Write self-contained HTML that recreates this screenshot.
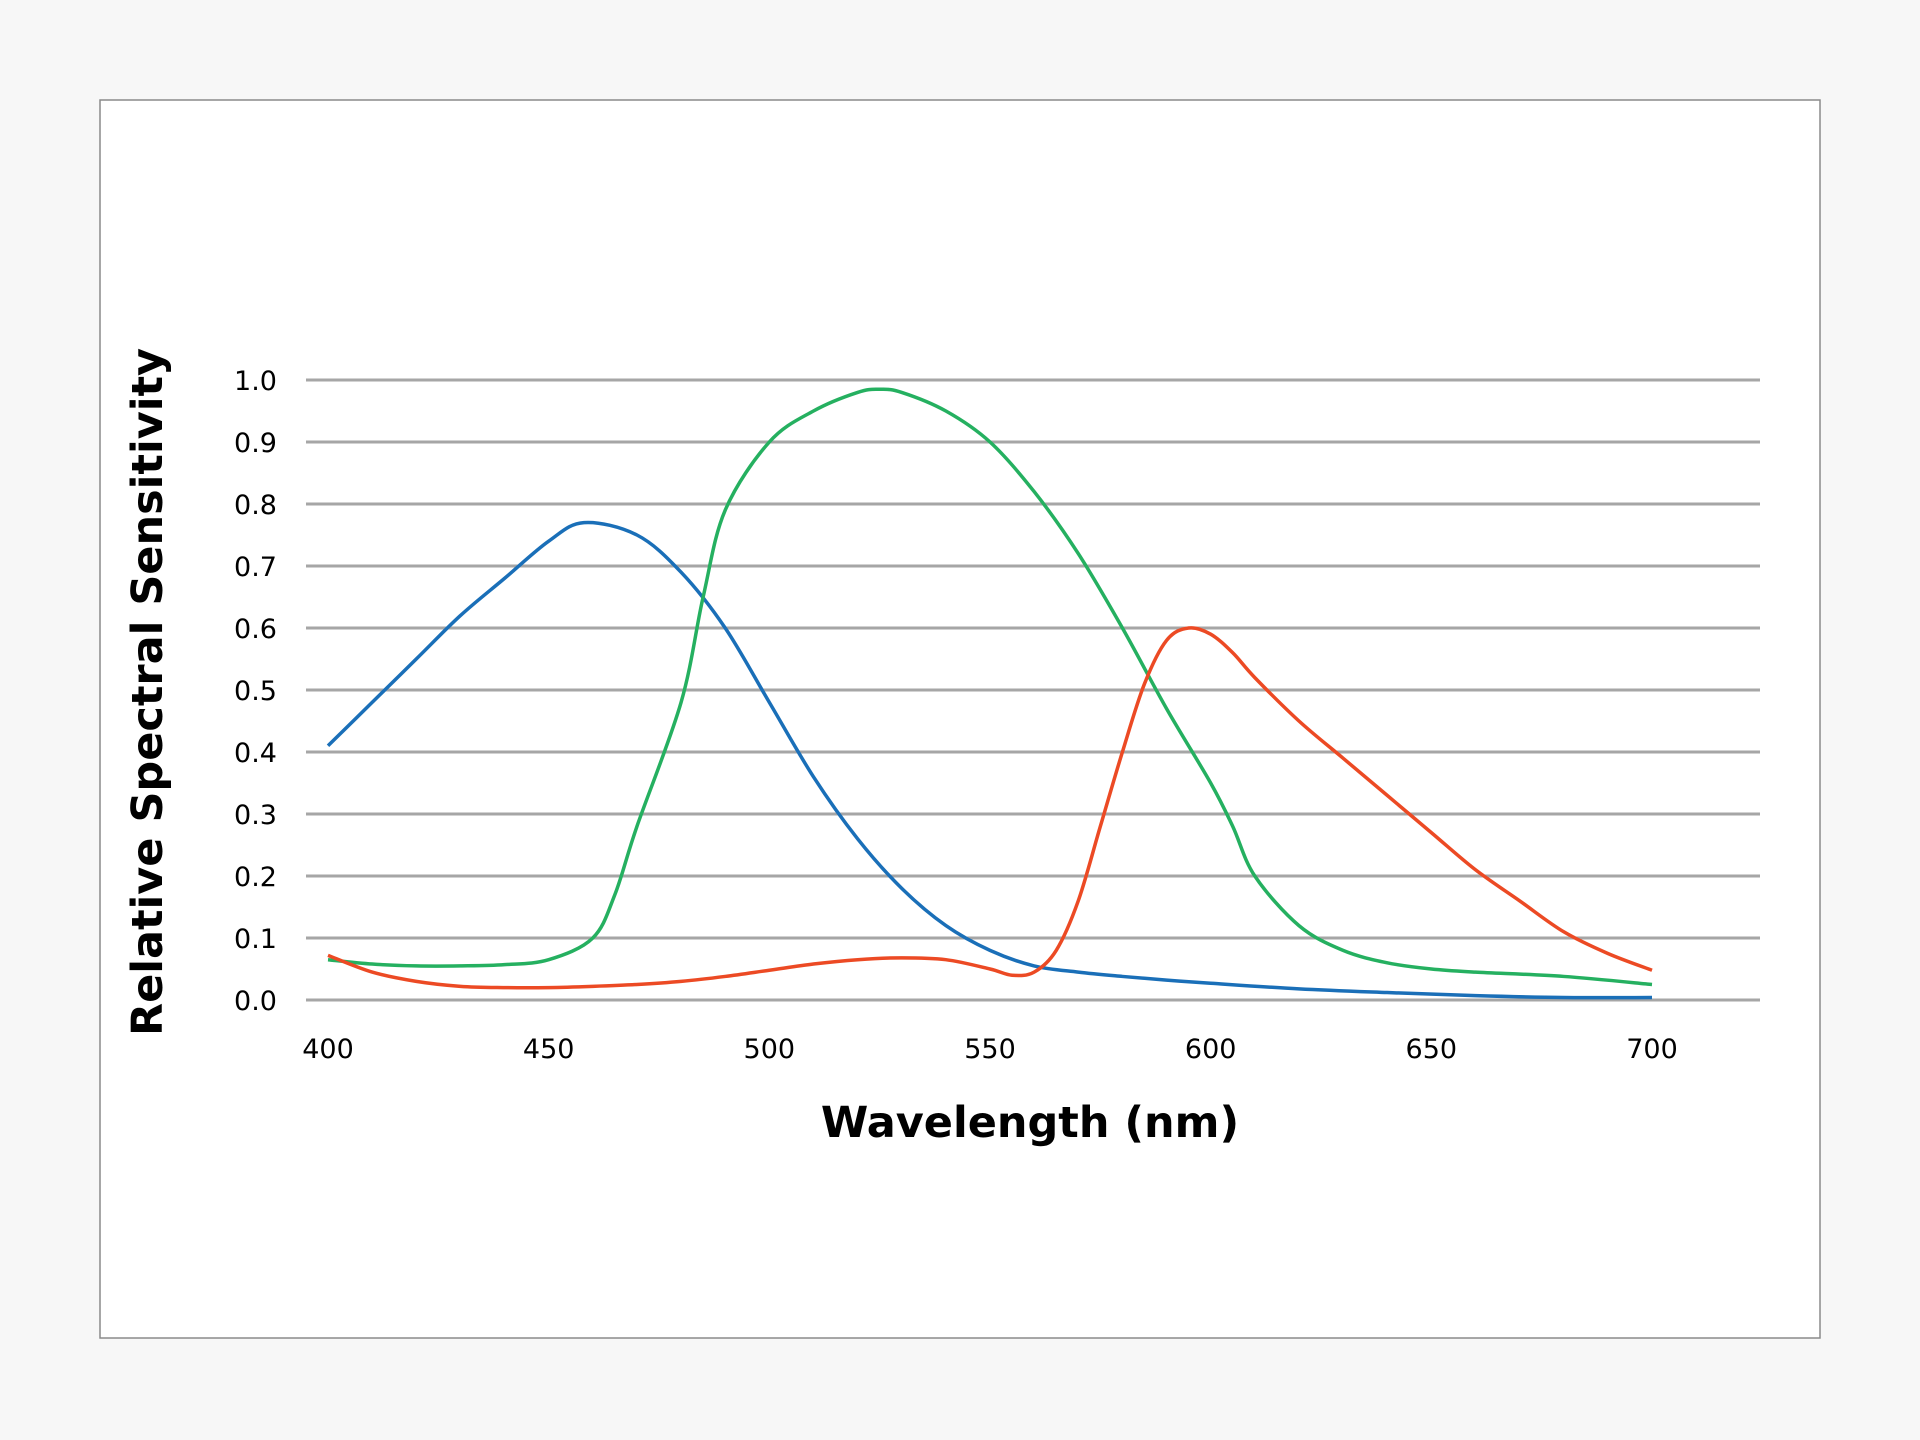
<!DOCTYPE html>
<html><head><meta charset="utf-8"><style>
html,body{margin:0;padding:0;background:#f7f7f7;}
svg{display:block;font-family:"DejaVu Sans","Liberation Sans",sans-serif;}
</style></head><body>
<svg id="chart" width="1920" height="1440">
<rect x="100" y="100" width="1720" height="1238" fill="#fff" stroke="#8a8a8a" stroke-width="1.5"/>
<g id="grid"></g>
<g id="ylabels"></g>
<g id="xlabels"></g>
<g id="series"></g>
<text x="1030" y="1137" text-anchor="middle" font-size="43" font-weight="bold" fill="#000">Wavelength (nm)</text>
<text transform="translate(162,692) rotate(-90)" text-anchor="middle" font-size="43" font-weight="bold" fill="#000">Relative Spectral Sensitivity</text>
</svg>
<script>
const yTicks=[0,0.1,0.2,0.3,0.4,0.5,0.6,0.7,0.8,0.9,1.0];
const xTicks=[400,450,500,550,600,650,700];
const blueX=[400,410,420,430,440,450,458,470,480,490,500,510,520,530,540,550,560,570,580,590,600,620,640,660,680,700];
const blueY=[0.41,0.48,0.55,0.62,0.68,0.74,0.77,0.75,0.69,0.60,0.48,0.36,0.26,0.18,0.12,0.08,0.055,0.045,0.038,0.032,0.027,0.018,0.012,0.007,0.004,0.004];
const greenX=[400,410,420,430,440,450,460,465,470,480,485,490,500,510,520,525,530,540,550,560,570,580,590,600,605,610,620,630,640,650,660,680,700];
const greenY=[0.065,0.058,0.055,0.055,0.057,0.065,0.10,0.17,0.28,0.48,0.65,0.79,0.90,0.95,0.98,0.985,0.98,0.95,0.90,0.82,0.72,0.60,0.47,0.35,0.28,0.20,0.12,0.08,0.06,0.05,0.045,0.038,0.025];
const redX=[400,410,420,430,440,450,460,470,480,490,500,510,520,530,540,550,555,560,565,570,575,580,585,590,595,600,605,610,620,630,640,650,660,670,680,690,700];
const redY=[0.072,0.045,0.03,0.022,0.02,0.02,0.022,0.025,0.03,0.038,0.048,0.058,0.065,0.068,0.065,0.05,0.04,0.045,0.08,0.16,0.28,0.40,0.51,0.58,0.60,0.59,0.56,0.52,0.45,0.39,0.33,0.27,0.21,0.16,0.11,0.075,0.048];
const NS='http://www.w3.org/2000/svg';
function xs(v){return 328+(v-400)*(1652-328)/300;}
function ys(v){return 1000-v*620;}
const grid=document.getElementById('grid'),yl=document.getElementById('ylabels'),xl=document.getElementById('xlabels'),ser=document.getElementById('series');
yTicks.forEach(t=>{
 const l=document.createElementNS(NS,'line');
 
 
 l.setAttribute('x1',306);l.setAttribute('x2',1760);l.setAttribute('y1',ys(t));l.setAttribute('y2',ys(t));
 l.setAttribute('stroke','#a6a6a6');l.setAttribute('stroke-width','3');grid.appendChild(l);
 const tx=document.createElementNS(NS,'text');
 
 
 tx.setAttribute('x',277);tx.setAttribute('y',ys(t)+10);tx.setAttribute('text-anchor','end');tx.setAttribute('font-size','27');
 tx.textContent=t.toFixed(1);yl.appendChild(tx);
});
xTicks.forEach(t=>{
 const tx=document.createElementNS(NS,'text');
 
 
 tx.setAttribute('x',xs(t));tx.setAttribute('y',1058);tx.setAttribute('text-anchor','middle');tx.setAttribute('font-size','27');
 tx.textContent=t;xl.appendChild(tx);
});
function path(X,Y){
 const p=X.map((x,i)=>[xs(x),ys(Y[i])]);
 let d='M'+p[0][0]+','+p[0][1];
 for(let i=0;i<p.length-1;i++){
  const p0=p[Math.max(0,i-1)],p1=p[i],p2=p[i+1],p3=p[Math.min(p.length-1,i+2)];
  const c1=[p1[0]+(p2[0]-p0[0])/6,p1[1]+(p2[1]-p0[1])/6];
  const c2=[p2[0]-(p3[0]-p1[0])/6,p2[1]-(p3[1]-p1[1])/6];
  d+=' C'+c1+' '+c2+' '+p2;
 }
 return d;
}
[[blueX,blueY,'#1a6fb8','blue-series'],[greenX,greenY,'#25b060','green-series'],[redX,redY,'#ec4a24','red-series']].forEach(s=>{
 const pa=document.createElementNS(NS,'path');
 
 
 pa.setAttribute('d',path(s[0],s[1]));pa.setAttribute('fill','none');pa.setAttribute('stroke',s[2]);pa.setAttribute('stroke-width','3.5');
 ser.appendChild(pa);
});
</script>
</body></html>
